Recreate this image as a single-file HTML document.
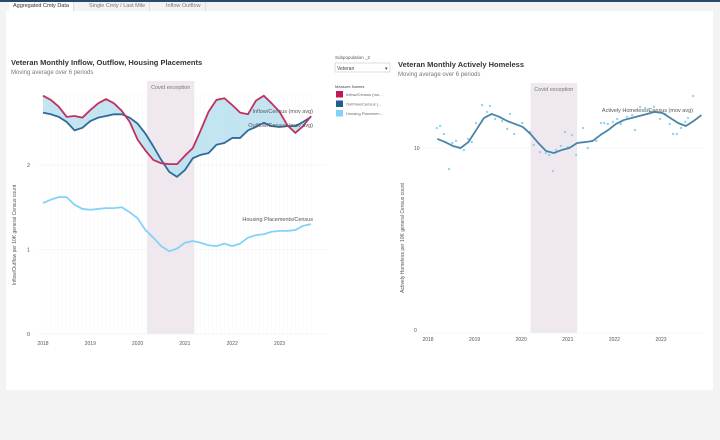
<!DOCTYPE html>
<html><head><meta charset="utf-8">
<style>
body{margin:0;width:720px;height:440px;background:#f3f3f3;font-family:"Liberation Sans",sans-serif;overflow:hidden;position:relative}
#topbar{position:absolute;left:0;top:0;width:720px;height:2px;background:#2b4a6b}
.tab{position:absolute;top:2px;height:9px;font-size:5.5px;line-height:9px;color:#777;border-right:1px solid #ddd;padding:0 4px}
#panel{position:absolute;left:6px;top:11px;width:707px;height:379px;background:#fff}
svg{position:absolute;left:0;top:0}
</style></head><body>
<div id="topbar"></div>
<div class="tab" style="left:9px;color:#333;background:#fff">Aggregated Cmty Data</div>
<div class="tab" style="left:85px">Single Cmty / Last Mile</div>
<div class="tab" style="left:162px">Inflow Outflow</div>
<div id="panel"></div>
<svg id="chart" width="720" height="440"></svg>
<script>
// Left chart data (sampled every 2 months from 2018.0)
const leftStart = 2018.0, leftStep = 1/6;
const inflowVals = [2.82,2.77,2.69,2.57,2.58,2.56,2.65,2.73,2.78,2.73,2.64,2.51,2.30,2.17,2.06,2.02,2.01,2.01,2.11,2.20,2.41,2.63,2.77,2.79,2.71,2.62,2.60,2.76,2.82,2.73,2.63,2.47,2.38,2.46,2.58];
const outflowVals = [2.62,2.60,2.57,2.51,2.41,2.44,2.52,2.56,2.58,2.60,2.60,2.56,2.49,2.37,2.22,2.06,1.92,1.86,1.94,2.08,2.12,2.14,2.24,2.26,2.32,2.32,2.41,2.45,2.50,2.46,2.45,2.46,2.46,2.51,2.57];
const housingVals = [1.55,1.59,1.62,1.62,1.53,1.48,1.47,1.48,1.49,1.49,1.50,1.44,1.37,1.23,1.14,1.04,0.98,1.01,1.08,1.10,1.08,1.05,1.04,1.07,1.04,1.07,1.14,1.17,1.18,1.21,1.22,1.22,1.23,1.28,1.30];
const leftYTicks = [0,1,2];
const yearTicks = [2018,2019,2020,2021,2022,2023];
// Right chart data
const rightStart = 2018.2, rightStep = 1/6;
const homelessVals = [10.49,10.32,10.11,10.0,10.32,10.97,11.62,11.84,11.68,11.46,11.30,11.14,10.76,10.27,9.84,9.73,9.89,10.0,10.27,10.32,10.38,10.70,10.97,11.30,11.51,11.62,11.73,11.84,11.95,11.89,11.62,11.35,11.19,11.46,11.78];
const scatterDates = [2018.19,2018.26,2018.34,2018.45,2018.52,2018.60,2018.67,2018.77,2018.86,2018.94,2019.03,2019.16,2019.27,2019.33,2019.44,2019.59,2019.70,2019.76,2019.85,2020.02,2020.19,2020.27,2020.40,2020.53,2020.60,2020.68,2020.75,2020.85,2020.94,2021.00,2021.09,2021.18,2021.33,2021.43,2021.52,2021.61,2021.71,2021.78,2021.86,2021.97,2022.06,2022.14,2022.27,2022.38,2022.44,2022.55,2022.66,2022.76,2022.85,2022.98,2023.09,2023.19,2023.26,2023.34,2023.43,2023.52,2023.58,2023.69];
const scatterVals = [11.08,11.19,10.76,8.86,10.27,10.38,10.0,9.89,10.49,10.32,11.35,12.32,11.95,12.27,11.57,11.46,11.03,11.84,10.76,11.35,10.86,10.16,9.78,9.73,9.62,8.76,9.89,10.11,10.86,10.05,10.70,9.62,11.08,10.0,10.38,10.38,11.35,11.35,11.30,11.41,11.57,11.30,11.68,11.78,10.97,12.22,12.16,12.0,12.22,11.57,11.84,11.30,10.76,10.76,11.08,11.41,11.62,12.81];
const rightYTicks = [0,10];
const covid = [2020.2, 2021.2];

const NS="http://www.w3.org/2000/svg";
const svg=document.getElementById('chart');
function mk(tag,attrs,parent){const e=document.createElementNS(NS,tag);for(const k in attrs)e.setAttribute(k,attrs[k]);(parent||svg).appendChild(e);return e;}
function txt(x,y,s,attrs,parent){const t=mk('text',Object.assign({x:x,y:y},attrs),parent);t.textContent=s;return t;}

// axis functions
const Lx=yr=>43+(yr-2018)*47.3, Ly=v=>334-v*84.5;
const Rx=yr=>428+(yr-2018)*46.6, Ry=v=>333-v*18.5;
const ld=i=>leftStart+i*leftStep, rd=i=>rightStart+i*rightStep;

// ---------- LEFT CHART ----------
const gL=mk('g',{});


let t=txt(11,65,'Veteran Monthly Inflow, Outflow, Housing Placements',{'font-size':'7.5','font-weight':'bold',fill:'#333'},gL);

t=txt(11,74,'Moving average over 6 periods',{'font-size':'6',fill:'#777'},gL);

// vertical month grid
for(let m=0;m<=68;m++){const x=Lx(2018+m/12);mk('line',{x1:x,x2:x,y1:92,y2:334,stroke:'#f6f7f9','stroke-width':0.5},gL);}
// covid band
let b=mk('rect',{x:Lx(covid[0]),y:81,width:Lx(covid[1])-Lx(covid[0]),height:253,fill:'#efe8ee'},gL);

t=txt((Lx(covid[0])+Lx(covid[1]))/2,89,'Covid exception',{'font-size':'5.5',fill:'#777','text-anchor':'middle'},gL);

// y ticks
leftYTicks.forEach(v=>{mk('line',{x1:38,x2:326,y1:Ly(v),y2:Ly(v),stroke:'#eef0f2','stroke-width':0.6},gL);
 const l=txt(27,Ly(v)+2,String(v),{'font-size':'5.5',fill:'#555'},gL);
 });
yearTicks.forEach(y=>{const l=txt(Lx(y),345,String(y),{'font-size':'5',fill:'#555','text-anchor':'middle'},gL);
 });
t=txt(0,0,'Inflow/Outflow per 10K general Census count',{'font-size':'5',fill:'#555','text-anchor':'middle',transform:'translate(16,235) rotate(-90)'},gL);

// fill between
let fp='M'+inflowVals.map((v,i)=>Lx(ld(i))+','+Ly(v)).join('L');
for(let i=outflowVals.length-1;i>=0;i--)fp+='L'+Lx(ld(i))+','+Ly(outflowVals[i]);
let f=mk('path',{d:fp+'Z',fill:'#b9e0f0','fill-opacity':0.85},gL);

function line(vals,xf,yf,df,color,w,name,g){const p=mk('path',{d:'M'+vals.map((v,i)=>xf(df(i))+','+yf(v)).join('L'),fill:'none',stroke:color,'stroke-width':w,'stroke-linejoin':'round'},g);
 return p;}
line(outflowVals,Lx,Ly,ld,'#2f6a98',1.8,'outflow-line',gL);
line(inflowVals,Lx,Ly,ld,'#c2305e',1.8,'inflow-line',gL);
line(housingVals,Lx,Ly,ld,'#84d3f7',1.8,'housing-placements-line',gL);
t=txt(313,113,'Inflow/Census (mov avg)',{'font-size':'5.5',fill:'#555','text-anchor':'end'},gL);

t=txt(313,127,'Outflow/Census (mov avg)',{'font-size':'5.5',fill:'#555','text-anchor':'end'},gL);

t=txt(313,221,'Housing Placements/Census',{'font-size':'5.5',fill:'#555','text-anchor':'end'},gL);


// ---------- FILTER + LEGEND ----------
const gM=mk('g',{});


t=txt(335,59,'Subpopulation _2',{'font-size':'4.5',fill:'#555'},gM);

let dd=mk('rect',{x:335,y:63,width:55,height:9,fill:'#fff',stroke:'#bbb','stroke-width':0.5},gM);

txt(337,70,'Veteran',{'font-size':'5',fill:'#444'},gM);
txt(385,70,'▾',{'font-size':'5',fill:'#444'},gM);
t=txt(335,88,'Measure Names',{'font-size':'4',fill:'#444'},gM);

[['#c2185b','Inflow/Census (mo...'],['#1f5f8f','OutFlow/Census (...'],['#7fd3fb','Housing Placemen...']].forEach((e,i)=>{
 const r=mk('rect',{x:336,y:91+i*9.5,width:7,height:6.5,fill:e[0]},gM);
 
 const l=txt(346,96+i*9.5,e[1],{'font-size':'4',fill:'#666'},gM);
 });

// ---------- RIGHT CHART ----------
const gR=mk('g',{});


t=txt(398,67,'Veteran Monthly Actively Homeless',{'font-size':'7.5','font-weight':'bold',fill:'#333'},gR);

t=txt(398,76,'Moving average over 6 periods',{'font-size':'6',fill:'#777'},gR);

b=mk('rect',{x:Rx(covid[0]),y:83,width:Rx(covid[1])-Rx(covid[0]),height:250,fill:'#efe8ee'},gR);

t=txt((Rx(covid[0])+Rx(covid[1]))/2,91,'Covid exception',{'font-size':'5.5',fill:'#777','text-anchor':'middle'},gR);

rightYTicks.forEach(v=>{mk('line',{x1:418,x2:705,y1:Ry(v),y2:Ry(v),stroke:'#eef0f2','stroke-width':0.6},gR);
 const l=txt(414,Ry(v)+(v===0?-1:2),String(v),{'font-size':'5',fill:'#555'},gR);
 });
yearTicks.forEach(y=>{const l=txt(Rx(y),341,String(y),{'font-size':'5',fill:'#555','text-anchor':'middle'},gR);
 });
t=txt(0,0,'Actively Homeless per 10K general Census count',{'font-size':'5',fill:'#555','text-anchor':'middle',transform:'translate(404,238) rotate(-90)'},gR);

scatterVals.forEach((v,i)=>{const c=mk('circle',{cx:Rx(scatterDates[i]),cy:Ry(v),r:1.2,fill:'#8fd3f3'},gR);
 });
line(homelessVals,Rx,Ry,rd,'#4a84a8',1.8,'homeless-line',gR);
t=txt(693,112,'Actively Homeless/Census (mov avg)',{'font-size':'5.5',fill:'#555','text-anchor':'end'},gR);

</script>
</body></html>
